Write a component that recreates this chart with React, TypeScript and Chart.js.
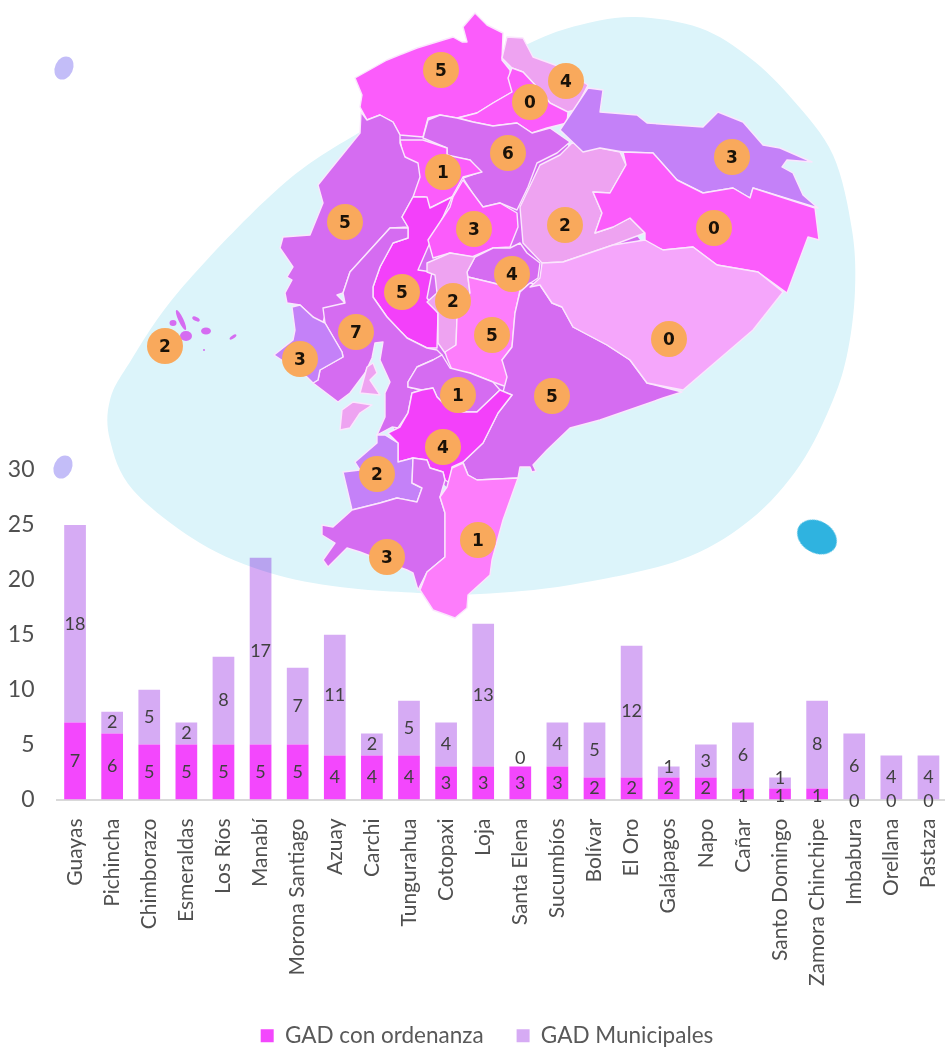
import React, { useEffect, useRef } from "react";
import { Chart, registerables } from "chart.js";

Chart.register(...registerables);

const categories = ["Guayas","Pichincha","Chimborazo","Esmeraldas","Los Ríos","Manabí","Morona Santiago","Azuay","Carchi","Tungurahua","Cotopaxi","Loja","Santa Elena","Sucumbíos","Bolívar","El Oro","Galápagos","Napo","Cañar","Santo Domingo","Zamora Chinchipe","Imbabura","Orellana","Pastaza"];
const gadConOrdenanza = [7,6,5,5,5,5,5,4,4,4,3,3,3,3,2,2,2,2,1,1,1,0,0,0];
const gadMunicipales = [18,2,5,2,8,17,7,11,2,5,4,13,0,4,5,12,1,3,6,1,8,6,4,4];
const yTicks = [0,5,10,15,20,25,30];

const mapBadgeValues = [5,4,0,3,6,1,2,0,5,3,4,2,5,5,0,7,3,2,1,5,4,2,1,3];
const mapBadgeSpots = [[441,70],[566,81],[530,102],[732,157],[508,153],[443,172],[565,225],[714,228],[345,222],[474,229],[512,274],[453,301],[402,292],[492,335],[669,339],[356,332],[300,359],[165,346],[458,395],[552,396],[443,447],[377,474],[478,540],[387,557]];

const blobOutline = [[530,43],[580,25],[635,17],[700,28],[750,58],[793,100],[833,155],[852,230],[855,290],[848,350],[833,400],[800,465],[750,520],[680,560],[570,585],[480,594],[418,593],[340,587],[270,573],[200,543],[133,490],[110,440],[110,400],[130,362],[180,290],[280,187],[360,132],[450,85]];

const DARK = "#d56cf1", BRIGHT = "#fb5cfb", PALE = "#eea3f1", VIOLET = "#c481f8", HOT = "#f33ffa", PINK = "#fd7dfb", LIGHT = "#f5a6fb";

const landUnderlay = "365,125 560,135 640,240 540,285 520,470 450,490 395,440 392,400 392,320 340,270";

const provinces: [string, string][] = [
  [BRIGHT, "355,78 387,60 417,48 453,37 462,42 467,42 463,27 475,13 487,25 503,33 502,60 510,70 512,92 493,103 477,113 457,118 440,115 428,118 423,137 400,135 393,122 380,115 367,120 360,107 362,95"],
  [PALE, "507,37 523,38 533,57 555,65 588,85 575,110 567,112 550,103 537,87 523,72 512,68 502,58"],
  [BRIGHT, "512,68 523,72 537,87 550,103 568,112 567,123 547,128 532,133 517,123 493,126 473,122 458,118 477,113 493,103 512,92 508,78"],
  [DARK, "428,120 440,115 457,118 473,122 493,126 517,123 532,133 550,128 570,142 557,153 537,163 528,187 517,210 500,203 483,207 475,197 463,178 480,172 470,160 453,157 447,155 447,148 423,138"],
  [BRIGHT, "400,140 423,140 447,148 447,155 470,160 482,172 463,177 452,197 430,208 425,197 413,197 418,167 403,155"],
  [DARK, "361,112 367,120 380,115 393,122 400,135 400,143 405,157 418,163 420,177 413,197 402,217 408,227 390,228 370,250 350,272 343,293 337,295 345,303 327,310 322,325 313,317 300,305 287,303 285,293 292,280 287,277 293,267 280,248 283,237 310,235 323,203 318,185 330,170 360,133"],
  [HOT, "413,197 427,197 430,208 452,197 443,217 428,247 418,270 432,272 427,298 438,313 437,348 427,348 407,338 387,317 373,297 373,287 380,267 393,243 408,238 408,227 402,217"],
  [DARK, "323,308 325,323 342,352 343,357 320,370 318,380 313,383 338,402 350,393 365,373 372,358 375,343 383,342 380,360 390,382 385,393 385,417 377,435 392,427 398,428 408,413 412,393 422,390 408,387 408,382 417,367 433,360 442,355 437,350 427,348 407,338 387,317 373,297 373,287 380,267 393,243 408,238 408,228 390,228 370,250 350,272 343,293 345,303"],
  [VIOLET, "292,307 300,305 313,317 325,323 342,352 343,357 320,370 318,380 313,383 307,377 274,355 293,340 295,330"],
  [PALE, "340,430 342,410 353,402 372,405 360,413 350,428"],
  [PALE, "360,393 367,367 373,363 377,373 370,380 380,395"],
  [BRIGHT, "463,180 483,207 500,203 517,213 518,227 510,247 493,248 472,257 450,253 433,258 428,240 450,207 453,197"],
  [DARK, "475,257 493,248 510,248 520,243 527,253 540,263 538,278 520,290 493,283 468,277 467,272"],
  [PALE, "427,263 450,253 475,257 467,272 470,293 457,317 456,345 445,353 438,343 438,313 427,302 437,293 435,275 427,272"],
  [PINK, "468,277 493,283 520,290 518,300 515,313 512,347 502,360 508,373 507,387 493,382 470,373 452,370 447,358 445,352 456,345 457,317 470,293"],
  [DARK, "540,285 552,303 562,307 573,327 607,345 630,360 647,383 682,392 663,398 600,420 570,428 547,450 533,465 536,471 532,472 530,467 520,467 518,478 477,480 468,475 463,462 483,443 498,413 512,395 503,392 507,377 502,360 512,347 515,313 518,300 520,292 530,283"],
  [DARK, "408,382 417,367 433,360 442,355 450,368 470,373 493,382 500,390 477,412 463,412 447,407 437,397 433,388 422,390 408,387"],
  [HOT, "422,390 433,388 437,397 447,407 463,412 477,412 500,390 512,395 498,413 483,443 463,462 452,467 450,483 445,480 443,472 430,468 427,460 413,458 398,462 398,443 388,433 400,427 408,413 412,393"],
  [VIOLET, "377,435 385,435 398,443 398,462 413,458 412,483 422,488 417,502 397,498 380,503 352,510 343,472 360,470 355,462 377,443"],
  [DARK, "352,510 380,503 397,498 417,502 422,488 412,483 413,458 427,460 430,468 443,472 445,480 440,497 445,513 445,557 427,572 418,590 413,573 407,570 360,552 347,548 328,567 323,560 335,543 322,535 322,525 333,527"],
  [PINK, "440,497 447,487 452,468 463,463 468,475 477,480 518,478 503,520 492,560 490,575 468,595 467,608 455,618 433,610 420,590 427,572 445,557 445,513"],
  [PALE, "572,143 600,148 620,152 626,165 610,193 593,192 602,213 595,233 613,227 630,218 645,233 613,245 563,262 542,263 523,243 520,207 540,165 560,155"],
  [VIOLET, "560,130 588,88 603,90 600,112 637,115 647,123 703,127 718,112 743,122 763,145 780,148 812,162 787,160 782,167 793,173 803,195 818,208 753,188 750,198 733,188 703,193 677,180 653,153 623,152 600,148 583,152"],
  [BRIGHT, "623,152 653,153 677,180 703,193 733,188 750,198 753,188 815,208 819,240 808,237 787,293 758,272 717,265 693,247 663,250 645,243 645,233 630,218 613,227 595,233 602,213 593,192 610,193 626,165"],
  [LIGHT, "542,263 563,262 613,245 645,240 663,250 693,247 717,265 758,272 783,292 753,330 683,390 647,383 630,360 607,345 573,327 562,307 552,303 540,285 530,287 540,278"],
];

const islands = [[186,336,6,5,0],[181,320,2.5,11,-25],[173,323,3.5,3,0],[196,319,4,2,25],[206,331,5,3.5,0],[233,337,4,1.5,-35],[204,350,1,1,0]];

function smoothClosed(points: number[][]): string {
  const n = points.length;
  let d = `M${points[0][0]},${points[0][1]}`;
  for (let i = 0; i < n; i++) {
    const p0 = points[(i - 1 + n) % n], p1 = points[i], p2 = points[(i + 1) % n], p3 = points[(i + 2) % n];
    d += ` C${p1[0] + (p2[0] - p0[0]) / 6},${p1[1] + (p2[1] - p0[1]) / 6} ${p2[0] - (p3[0] - p1[0]) / 6},${p2[1] - (p3[1] - p1[1]) / 6} ${p2[0]},${p2[1]}`;
  }
  return d + "Z";
}

const segmentLabels = {
  id: "segmentLabels",
  afterDatasetsDraw(chart: any) {
    const { ctx } = chart;
    ctx.save();
    ctx.font = '18px Lato';
    ctx.fillStyle = "#404040";
    ctx.textAlign = "center";
    ctx.textBaseline = "middle";
    chart.data.datasets.forEach((ds: any, di: number) => {
      chart.getDatasetMeta(di).data.forEach((el: any, i: number) => {
        const { x, y, base } = el.getProps(["x", "y", "base"], true);
        const v = ds.data[i];
        let shift = 0;
        if (di === 1 && v === 0) shift = -8;
        else if (di === 1 && v === 1) shift = -5;
        else if (di === 0 && v <= 1) shift = 2;
        ctx.fillText(String(v), x, (y + base) / 2 + shift);
      });
    });
    ctx.restore();
  },
};

const legendNudge = {
  id: "legendNudge",
  afterLayout(chart: any) {
    chart.legend.left += 13.5;
    chart.legend.right += 13.5;
  },
};

export default function App() {
  const ref = useRef<HTMLCanvasElement>(null);
  useEffect(() => {
    const chart = new Chart(ref.current!, {
      type: "bar",
      data: {
        labels: categories,
        datasets: [
          { label: "GAD con ordenanza", data: gadConOrdenanza, backgroundColor: "#f347fd" },
          { label: "GAD Municipales", data: gadMunicipales, backgroundColor: "#d6abf4" },
        ],
      },
      options: {
        responsive: false,
        animation: false,
        layout: { padding: { top: 470, right: 30, bottom: 1, left: 0 } },
        datasets: { bar: { categoryPercentage: 0.585, barPercentage: 1 } },
        plugins: {
          tooltip: { enabled: false },
          legend: {
            position: "bottom",
            labels: { boxWidth: 13, boxHeight: 13, padding: 33, color: "#595959", font: { family: "Lato", size: 22.5 } },
          },
        },
        scales: {
          x: {
            stacked: true,
            grid: { display: false },
            border: { display: true, color: "#d9d9d9", width: 2 },
            ticks: { autoSkip: false, minRotation: 90, maxRotation: 90, padding: 11, color: "#505050", font: { family: "Lato", size: 21 } },
            afterFit(scale: any) { scale.height = 192; },
          },
          y: {
            stacked: true,
            min: 0,
            max: 30,
            grid: { display: false },
            border: { display: false },
            afterBuildTicks(scale: any) { scale.ticks = yTicks.map((value) => ({ value })); },
            ticks: { padding: 14, color: "#505050", font: { family: "Lato", size: 23 } },
            afterFit(scale: any) { scale.width = 56.5; },
          },
        },
      },
      plugins: [segmentLabels, legendNudge],
    } as any);
    return () => chart.destroy();
  }, []);

  return (
    <div style={{ position: "absolute", left: 0, top: 0, width: 945, height: 1048, overflow: "hidden", background: "#fff" }}>
      <canvas ref={ref} width={977} height={1058} style={{ position: "absolute", left: 0, top: 0, display: "block" }} />
      <svg width={945} height={1048} style={{ position: "absolute", left: 0, top: 0, pointerEvents: "none" }}>
        <defs>
          <filter id="soft" x="-5%" y="-5%" width="110%" height="110%"><feGaussianBlur stdDeviation="0.6" /></filter>
        </defs>
        <path d={smoothClosed(blobOutline)} fill="#dcf4fa" style={{ mixBlendMode: "multiply" }} />
        <ellipse cx={64} cy={68} rx={9} ry={12} transform="rotate(25 64 68)" fill="#c3bdf8" />
        <ellipse cx={63} cy={467} rx={9} ry={12} transform="rotate(25 63 467)" fill="#c3bdf8" />
        <ellipse cx={817} cy={537} rx={21} ry={16} transform="rotate(30 817 537)" fill="#2fb3e0" />
        {islands.map(([x, y, rx, ry, r], i) => (
          <ellipse key={i} cx={x} cy={y} rx={rx} ry={ry} transform={`rotate(${r} ${x} ${y})`} fill={DARK} />
        ))}
        <g filter="url(#soft)">
          <polygon points={landUnderlay} fill={DARK} />
          {provinces.map(([fill, pts], i) => (
            <polygon key={i} points={pts} fill={fill} stroke="#fbe6fd" strokeWidth={1.4} strokeLinejoin="round" />
          ))}
        </g>
        {mapBadgeValues.map((v, i) => (
          <g key={i}>
            <circle cx={mapBadgeSpots[i][0]} cy={mapBadgeSpots[i][1]} r={18} fill="#f9a95c" />
            <text x={mapBadgeSpots[i][0]} y={mapBadgeSpots[i][1] + 6} textAnchor="middle" fontFamily="DejaVu Sans" fontWeight="bold" fontSize={17} fill="#1a1208">{v}</text>
          </g>
        ))}
      </svg>
    </div>
  );
}
